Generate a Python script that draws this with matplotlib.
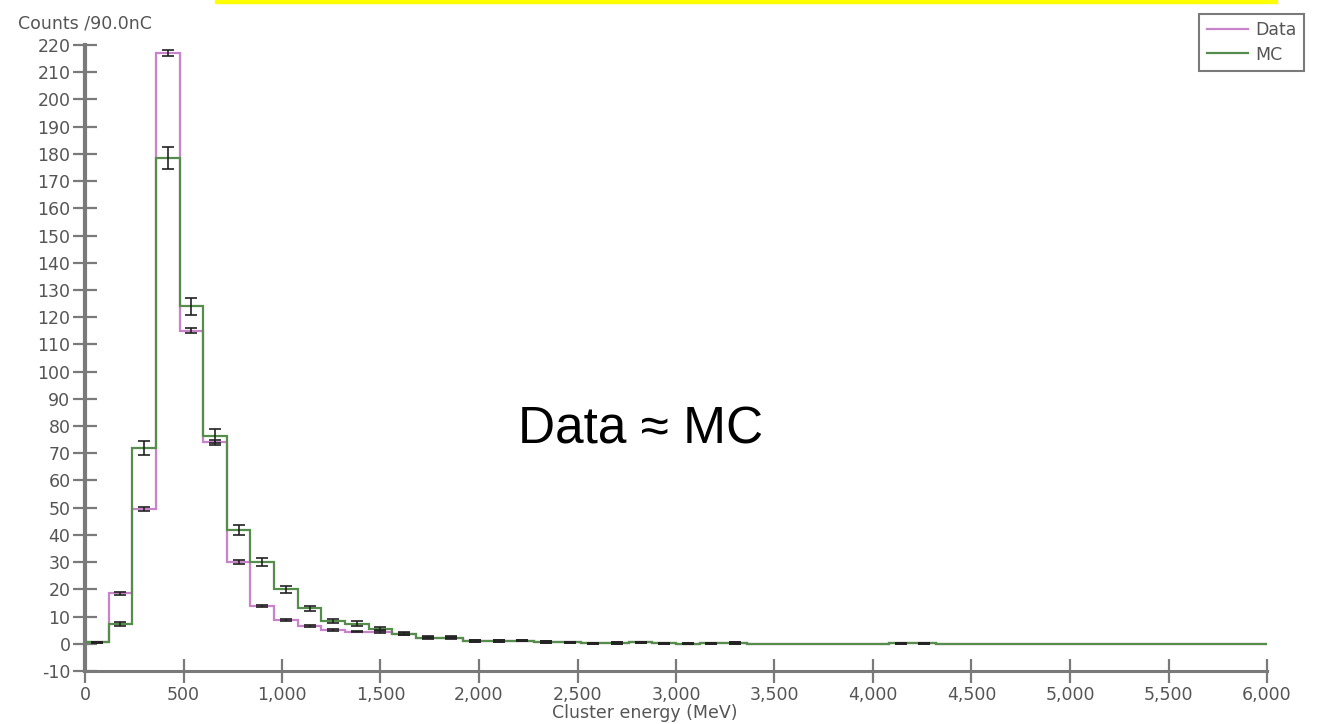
import numpy as np
import matplotlib
matplotlib.use("Agg")
import matplotlib.pyplot as plt
from matplotlib.patches import Rectangle
from matplotlib.ticker import FuncFormatter

plt.rcParams["axes.unicode_minus"] = False

# histogram contents, 50 bins of 120 MeV from 0 to 6000
bin_edges = np.arange(0, 6001, 120)
data_counts = [0.5, 18.5, 49.5, 217, 115, 74, 30, 14, 8.8, 6.5,
               5.0, 4.5, 4.3, 3.7, 2.3, 2.3, 1.0, 1.0, 1.2, 0.6,
               0.5, 0.2, 0.3, 0.5, 0.2, 0.1, 0.2, 0.4, 0, 0,
               0, 0, 0, 0, 0.15, 0.15, 0, 0, 0, 0,
               0, 0, 0, 0, 0, 0, 0, 0, 0, 0]
mc_counts = [0.5, 7.3, 72, 178.5, 124, 76.3, 41.7, 30, 20, 13,
             8.4, 7.4, 5.6, 3.7, 2.3, 2.3, 1.0, 1.0, 1.2, 0.6,
             0.5, 0.2, 0.3, 0.5, 0.2, 0.1, 0.2, 0.4, 0, 0,
             0, 0, 0, 0, 0.15, 0.15, 0, 0, 0, 0,
             0, 0, 0, 0, 0, 0, 0, 0, 0, 0]
data_err = [0.3, 0.6, 0.8, 1.2, 0.9, 0.8, 0.6, 0.4, 0.4, 0.3,
            0.3, 0.3, 0.3, 0.3, 0.3, 0.3, 0.3, 0.3, 0.3, 0.3,
            0.3, 0.2, 0.2, 0.2, 0.2, 0.2, 0.2, 0.3, 0, 0,
            0, 0, 0, 0, 0.2, 0.2, 0, 0, 0, 0,
            0, 0, 0, 0, 0, 0, 0, 0, 0, 0]
mc_err = [0.3, 0.8, 2.5, 4.2, 3.2, 2.6, 1.9, 1.6, 1.3, 1.0,
          0.8, 0.8, 0.7, 0.5, 0.4, 0.4, 0.3, 0.3, 0.3, 0.3,
          0.3, 0.2, 0.2, 0.2, 0.2, 0.2, 0.2, 0.3, 0, 0,
          0, 0, 0, 0, 0.2, 0.2, 0, 0, 0, 0,
          0, 0, 0, 0, 0, 0, 0, 0, 0, 0]
y_ticks = list(range(-10, 221, 10))
x_ticks = list(range(0, 6001, 500))

pink = "#c983cb"
green = "#558d4b"
grey = "#7a7a7a"
label_col = "#555555"
fs = 12.5

W, H = 1335, 724
fig = plt.figure(figsize=(W / 100, H / 100), dpi=100)
ax = fig.add_axes([85 / W, 1 - 671 / H, (1267 - 85) / W, (671 - 45) / H])

centers = 0.5 * (bin_edges[:-1] + bin_edges[1:])
ax.stairs(data_counts, bin_edges, baseline=None, color=pink, lw=1.6, label="Data", zorder=2)
ax.stairs(mc_counts, bin_edges, baseline=None, color=green, lw=1.6, label="MC", zorder=3)

dc = np.array(data_counts)
mc = np.array(mc_counts)
m = dc > 0
ax.errorbar(centers[m], dc[m], yerr=np.array(data_err)[m], fmt="none",
            ecolor="#222222", elinewidth=1.2, capsize=4, capthick=1.2, zorder=4)
m = mc > 0
ax.errorbar(centers[m], mc[m], yerr=np.array(mc_err)[m], fmt="none",
            ecolor="#222222", elinewidth=1.2, capsize=4, capthick=1.2, zorder=4)

ax.set_xlim(0, 6000)
ax.set_ylim(-10, 220)
ax.set_xticks(x_ticks)
ax.set_yticks(y_ticks)
ax.xaxis.set_major_formatter(FuncFormatter(lambda v, p: f"{int(v):,}"))

for s in ["top", "right"]:
    ax.spines[s].set_visible(False)
ax.spines["left"].set_color(grey)
ax.spines["left"].set_linewidth(3)
ax.spines["bottom"].set_color(grey)
ax.spines["bottom"].set_linewidth(2.2)
ax.tick_params(axis="both", direction="inout", length=17, width=1.6, color=grey,
               labelcolor=label_col, labelsize=fs)
ax.tick_params(axis="y", pad=2)
ax.tick_params(axis="x", pad=2)

fig.text(18 / W, 1 - 23 / H, "Counts /90.0nC", color=label_col, fontsize=fs, va="center")
fig.text(645 / W, 1 - 713 / H, "Cluster energy (MeV)", color=label_col, fontsize=fs,
         ha="center", va="center")

leg = ax.legend(loc="upper right", bbox_to_anchor=(1313 / W, 1 - 5 / H),
                bbox_transform=fig.transFigure, fancybox=False, fontsize=fs,
                handlelength=2.4, borderpad=0.45, labelspacing=0.35,
                handletextpad=0.4, framealpha=1)
leg.get_frame().set_edgecolor(grey)
leg.get_frame().set_linewidth(1.5)
for t in leg.get_texts():
    t.set_color(label_col)

fig.text(641 / W, 1 - 443 / H, "Data \u2248 MC", fontsize=37, ha="center",
         family=["Liberation Sans", "DejaVu Sans"], va="baseline", color="black")

fig.patches.append(Rectangle((215 / W, 1 - 3 / H), (1277 - 215) / W, 3 / H,
                             transform=fig.transFigure, color="#ffff00", zorder=5))

fig.savefig("out.png", dpi=100)
